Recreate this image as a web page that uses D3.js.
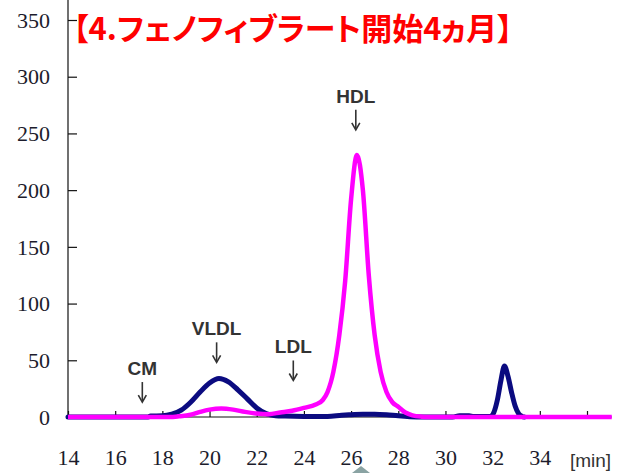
<!DOCTYPE html>
<html>
<head>
<meta charset="utf-8">
<script src="https://cdn.jsdelivr.net/npm/d3@7"></script>
<style>
  html, body { margin: 0; padding: 0; background: #fff; }
  svg { display: block; }
</style>
</head>
<body>
<svg id="chart" width="630" height="473"></svg>
<script>
// Elution profile (cholesterol) after 4 months of fenofibrate
const titleText = "【4.フェノフィブラート開始4ヵ月】";

// Navy trace: retention time [min] and signal
const navyTime  = [14, 17.4, 17.5, 18, 18.4, 18.8, 19.2, 19.6, 20, 20.4, 20.8, 21.2, 21.6, 22, 22.4, 22.8, 23.2, 24, 25, 25.6, 26, 26.5, 27, 27.5, 28, 28.5, 29, 30.3, 30.6, 31, 31.2, 31.9, 32.05, 32.2, 32.35, 32.5, 32.65, 32.8, 32.95, 33.1, 33.25, 33.35];
const navyValue = [0, 0, 0.8, 1, 2.5, 6, 13, 22, 30, 34, 31, 24, 16, 8, 3, 1.2, 0.8, 0.5, 0.5, 1.5, 2, 2.5, 2.5, 2, 1, 0.3, 0, 0, 1, 1, 0.5, 0.5, 4, 15, 32, 45, 36, 22, 10, 3, 0.5, 0];

// Magenta trace: retention time [min] and signal
const pinkTime  = [14, 18.3, 18.7, 19.2, 19.6, 20, 20.5, 21, 21.5, 22, 22.5, 23, 23.5, 24, 24.5, 24.8, 25, 25.25, 25.5, 25.75, 26, 26.25, 26.5, 26.75, 27, 27.25, 27.5, 27.75, 28, 28.3, 28.6, 29, 29.3, 37.05];
const pinkValue = [0, 0, 0.6, 2, 4.5, 6.5, 7.5, 6.5, 4.5, 3, 2.5, 4, 5.5, 8, 11, 15, 22, 40, 72, 120, 192, 231, 200, 125, 72, 40, 22, 13, 9, 4, 1.5, 0.3, 0, 0];

// Axis ticks
const yTicks = [0, 50, 100, 150, 200, 250, 300, 350];
const xTicks = [14, 16, 18, 20, 22, 24, 26, 28, 30, 32, 34, 36];
const xTickLabels = ["14", "16", "18", "20", "22", "24", "26", "28", "30", "32", "34", "[min]"];

// Fraction annotations: name, retention time, and label height (signal units)
const fractionNames = ["CM", "VLDL", "LDL", "HDL"];
const fractionTimes = [17.15, 20.3, 23.55, 26.2];
const fractionLabelLevels = [37, 72, 56, 277];

const svg = d3.select("#chart");

const x = d3.scaleLinear().domain([14, 36]).range([68, 587]);
const y = d3.scaleLinear().domain([0, 350]).range([417, 20]);

// Axis lines
svg.append("line")
  .attr("x1", x(14)).attr("x2", x(14))
  .attr("y1", 0).attr("y2", y(0))
  .attr("stroke", "#111").attr("stroke-width", 1.2);
svg.append("line")
  .attr("x1", x(14)).attr("x2", x(37.05))
  .attr("y1", y(0)).attr("y2", y(0))
  .attr("stroke", "#111").attr("stroke-width", 1.2);

// Y axis ticks and labels
const yAxis = svg.append("g")
  .attr("transform", `translate(${x(14)},0)`)
  .call(d3.axisLeft(y).tickValues(yTicks).tickSize(-9).tickPadding(18).tickFormat(d3.format("d")));
yAxis.select(".domain").remove();
yAxis.selectAll(".tick line").attr("stroke", "#111").attr("stroke-width", 1.2);
yAxis.selectAll(".tick text")
  .attr("font-family", "'Liberation Serif', 'DejaVu Serif', serif")
  .attr("font-size", 22)
  .attr("fill", "#1c1c2c")
  .attr("dy", "0.33em");

// X axis ticks and labels
const xAxis = svg.append("g")
  .attr("transform", `translate(0,${y(0)})`)
  .call(d3.axisBottom(x).tickValues(xTicks).tickSize(-6).tickFormat((d, i) => xTickLabels[i]));
xAxis.select(".domain").remove();
xAxis.selectAll(".tick line").attr("stroke", "#111").attr("stroke-width", 1.2);
xAxis.selectAll(".tick text")
  .attr("dy", null)
  .attr("y", 48)
  .attr("font-family", "'Liberation Serif', 'DejaVu Serif', serif")
  .attr("font-size", 22)
  .attr("fill", "#1c1c2c");
xAxis.selectAll(".tick text").filter((d, i) => xTickLabels[i] === "[min]")
  .attr("font-family", "'Liberation Sans', Arial, sans-serif")
  .attr("font-size", 19)
  .attr("fill", "#333")
  .attr("x", 3)
  .attr("y", 50);

// Traces
const line = d3.line()
  .x(d => x(d[0]))
  .y(d => y(d[1]))
  .curve(d3.curveMonotoneX);

svg.append("path")
  .datum(navyTime.map((t, i) => [t, navyValue[i]]))
  .attr("d", line)
  .attr("fill", "none")
  .attr("stroke", "#0b0b80")
  .attr("stroke-width", 5)
  .attr("stroke-linejoin", "round")
  .attr("stroke-linecap", "round");

svg.append("path")
  .datum(pinkTime.map((t, i) => [t, pinkValue[i]]))
  .attr("d", line)
  .attr("fill", "none")
  .attr("stroke", "#ff00ff")
  .attr("stroke-width", 4.5)
  .attr("stroke-linejoin", "round");

// Fraction labels with arrows
const ann = svg.append("g");
fractionNames.forEach((name, i) => {
  const cx = x(fractionTimes[i]);
  const base = y(fractionLabelLevels[i]);
  ann.append("text")
    .attr("x", cx).attr("y", base)
    .attr("text-anchor", "middle")
    .attr("font-family", "'Liberation Sans', Arial, sans-serif")
    .attr("font-weight", "bold")
    .attr("font-size", 19)
    .attr("fill", "#333")
    .text(name);
  ann.append("line")
    .attr("x1", cx).attr("x2", cx)
    .attr("y1", base + 7).attr("y2", base + 26)
    .attr("stroke", "#333").attr("stroke-width", 1.6);
  ann.append("path")
    .attr("d", `M${cx - 4},${base + 20} L${cx},${base + 27} L${cx + 4},${base + 20}`)
    .attr("fill", "none")
    .attr("stroke", "#333").attr("stroke-width", 1.6);
});

// Title
svg.append("text")
  .attr("x", 73).attr("y", 40)
  .attr("font-family", "'Noto Sans CJK JP', sans-serif")
  .attr("font-weight", "bold")
  .attr("font-size", 31)
  .attr("fill", "#ff0000")
  .style("font-feature-settings", "'palt' 1")
  .text(titleText);

// Slide decoration tip at the bottom edge
svg.append("path")
  .attr("d", "M352,473 L361,466 L370,473 Z")
  .attr("fill", "#8aa3a3");
</script>
</body>
</html>
